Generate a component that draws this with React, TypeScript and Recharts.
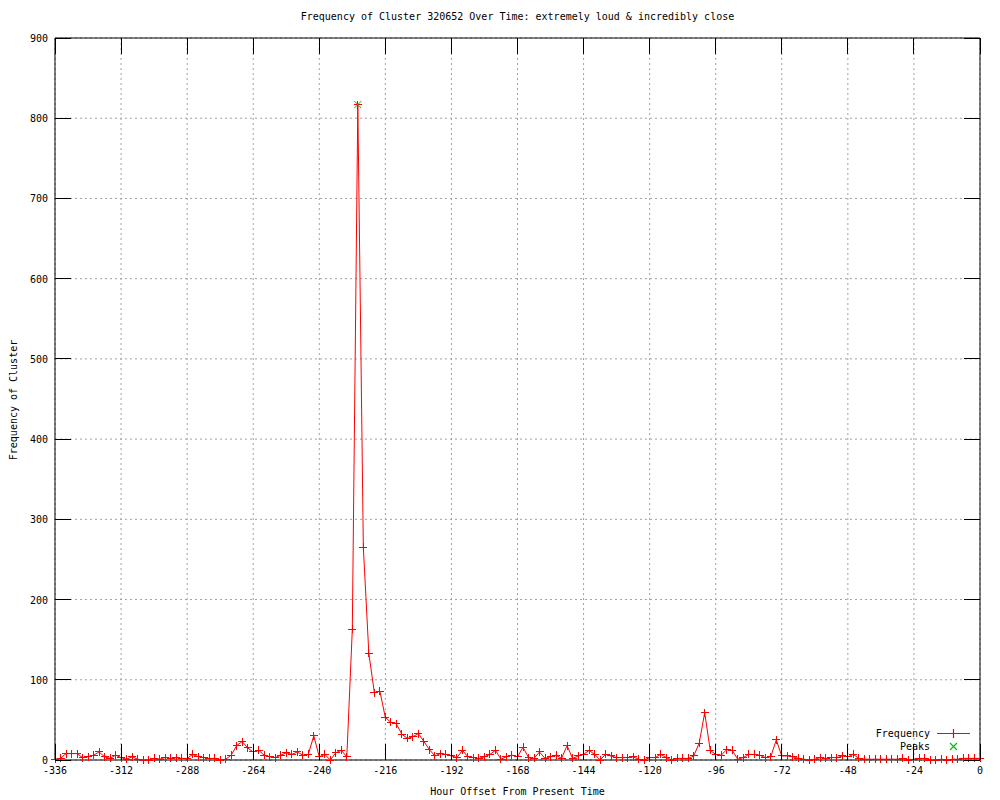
import React from 'react';
import { ComposedChart, Line, Scatter, XAxis, YAxis, CartesianGrid, ReferenceArea } from 'recharts';

// hour offsets, every 2 hours
const hours = [
  -336, -334, -332, -330, -328, -326, -324, -322, -320, -318, -316, -314, -312, -310, -308, -306, -304, -302, -300, -298,
  -296, -294, -292, -290, -288, -286, -284, -282, -280, -278, -276, -274, -272, -270, -268, -266, -264, -262, -260, -258,
  -256, -254, -252, -250, -248, -246, -244, -242, -240, -238, -236, -234, -232, -230, -228, -226, -224, -222, -220, -218,
  -216, -214, -212, -210, -208, -206, -204, -202, -200, -198, -196, -194, -192, -190, -188, -186, -184, -182, -180, -178,
  -176, -174, -172, -170, -168, -166, -164, -162, -160, -158, -156, -154, -152, -150, -148, -146, -144, -142, -140, -138,
  -136, -134, -132, -130, -128, -126, -124, -122, -120, -118, -116, -114, -112, -110, -108, -106, -104, -102, -100, -98,
  -96, -94, -92, -90, -88, -86, -84, -82, -80, -78, -76, -74, -72, -70, -68, -66, -64, -62, -60, -58,
  -56, -54, -52, -50, -48, -46, -44, -42, -40, -38, -36, -34, -32, -30, -28, -26, -24, -22, -20, -18,
  -16, -14, -12, -10, -8, -6, -4, -2, 0,
];

const frequency = [
  1, 2, 8, 8, 8, 3, 4, 6, 10, 4, 2, 6, 3, 1, 4, 1, 0, 0, 2, 1,
  3, 2, 3, 2, 2, 7, 4, 3, 2, 2, 0, 1, 6, 18, 23, 15, 10, 12, 6, 4,
  3, 6, 9, 7, 10, 6, 7, 30, 4, 7, 0, 9, 12, 4, 163, 817, 265, 133, 84, 86,
  53, 47, 45, 32, 27, 29, 33, 23, 13, 5, 8, 7, 5, 3, 12, 4, 3, 2, 4, 7,
  12, 1, 4, 6, 4, 16, 3, 2, 10, 2, 4, 6, 2, 18, 2, 5, 7, 12, 7, 0,
  7, 5, 3, 3, 3, 4, 1, 0, 3, 3, 7, 3, 0, 2, 2, 2, 5, 21, 59, 12,
  7, 6, 13, 12, 1, 3, 7, 7, 6, 3, 4, 25, 5, 5, 4, 2, 1, 0, 1, 3,
  2, 3, 3, 5, 4, 7, 2, 1, 1, 1, 1, 1, 1, 1, 2, 0, 1, 2, 2, 0,
  0, 1, 0, 1, 1, 2, 2, 2, 2,
];

const peakHours = [-226];
const peakValues = [817];

const xTicks = [-336, -312, -288, -264, -240, -216, -192, -168, -144, -120, -96, -72, -48, -24, 0];
const yTicks = [0, 100, 200, 300, 400, 500, 600, 700, 800, 900];

const data = hours.map((hour, i) => ({ hour, freq: frequency[i] }));
const peaks = peakHours.map((hour, i) => ({ hour, freq: peakValues[i] }));

const TOP = 38;
const BOTTOM = 760;
const LEFT = 55;
const RIGHT = 980;
const TICK = 16;
const FONT = '"DejaVu Sans Mono", monospace';

const PlusDot = (props: any) => {
  const { cx, cy, index } = props;
  if (cx == null || cy == null) return <g key={`p-${index}`} />;
  return (
    <path
      key={`p-${index}`}
      d={`M${cx - 4},${cy}H${cx + 4}M${cx},${cy - 4}V${cy + 4}`}
      stroke="#ff0000"
      strokeWidth={1}
      fill="none"
      shapeRendering="crispEdges"
    />
  );
};

const GreenX = (props: any) => {
  const { cx, cy } = props;
  return (
    <path
      d={`M${cx - 3.5},${cy - 3.5}L${cx + 3.5},${cy + 3.5}M${cx - 3.5},${cy + 3.5}L${cx + 3.5},${cy - 3.5}`}
      stroke="#00c000"
      strokeWidth={1}
      fill="none"
    />
  );
};

const XTick = (props: any) => {
  const { x, payload } = props;
  return (
    <g>
      <line x1={x} x2={x} y1={BOTTOM} y2={BOTTOM - TICK} stroke="#000" shapeRendering="crispEdges" />
      <line x1={x} x2={x} y1={TOP} y2={TOP + TICK} stroke="#000" shapeRendering="crispEdges" />
      <text x={x} y={774} textAnchor="middle" fontFamily={FONT} fontSize={10} fill="#000">
        {payload.value}
      </text>
    </g>
  );
};

const YTick = (props: any) => {
  const { y, payload } = props;
  return (
    <g>
      <line x1={LEFT} x2={LEFT + TICK} y1={y} y2={y} stroke="#000" shapeRendering="crispEdges" />
      <line x1={RIGHT} x2={RIGHT - TICK} y1={y} y2={y} stroke="#000" shapeRendering="crispEdges" />
      <text x={LEFT - 7} y={y + 4} textAnchor="end" fontFamily={FONT} fontSize={10} fill="#000">
        {payload.value}
      </text>
    </g>
  );
};

const LegendBox = () => (
  <svg width={120} height={30} style={{ position: 'absolute', left: 860, top: 725 }}>
    <text x={70} y={12} textAnchor="end" fontFamily={FONT} fontSize={10} fill="#000">Frequency</text>
    <line x1={77} x2={110} y1={8.5} y2={8.5} stroke="#ff0000" strokeWidth={1.2} />
    <line x1={93.5} x2={93.5} y1={4} y2={13} stroke="#ff0000" strokeWidth={1.2} />
    <text x={70} y={25} textAnchor="end" fontFamily={FONT} fontSize={10} fill="#000">Peaks</text>
    <path d="M90,18L97,25M90,25L97,18" stroke="#00c000" strokeWidth={1.2} />
  </svg>
);

export default function App() {
  return (
    <div style={{ position: 'absolute', left: 0, top: 0, width: 1000, height: 800, background: '#fff' }}>
      <div
        style={{
          position: 'absolute', left: 0, top: 11, width: 1035, textAlign: 'center',
          fontFamily: FONT, fontSize: 10, color: '#000',
        }}
      >
        Frequency of Cluster 320652 Over Time: extremely loud &amp; incredibly close
      </div>
      <div
        style={{
          position: 'absolute', left: 0, top: 786, width: 1035, textAlign: 'center',
          fontFamily: FONT, fontSize: 10, color: '#000',
        }}
      >
        Hour Offset From Present Time
      </div>
      <div
        style={{
          position: 'absolute', left: 13, top: 400, transform: 'translate(-50%, -50%) rotate(-90deg)',
          whiteSpace: 'nowrap', fontFamily: FONT, fontSize: 10, color: '#000',
        }}
      >
        Frequency of Cluster
      </div>
      <ComposedChart
        width={1000}
        height={800}
        data={data}
        margin={{ top: TOP, right: 1000 - RIGHT, bottom: 0, left: 0 }}
      >
        <CartesianGrid stroke="#a0a0a0" strokeDasharray="2 3" />
        <XAxis
          dataKey="hour"
          type="number"
          domain={[-336, 0]}
          ticks={xTicks}
          height={800 - BOTTOM}
          axisLine={false}
          tickLine={false}
          tick={<XTick />}
          interval={0}
        />
        <YAxis
          type="number"
          domain={[0, 900]}
          ticks={yTicks}
          width={LEFT}
          axisLine={false}
          tickLine={false}
          tick={<YTick />}
          interval={0}
        />
        <ReferenceArea x1={-336} x2={0} y1={0} y2={900} fill="none" stroke="#000" strokeWidth={1} />
        <Line
          dataKey="freq"
          stroke="#ff0000"
          strokeWidth={1}
          dot={(p: any) => <PlusDot key={`p-${p.index}`} {...p} />}
          activeDot={false}
          isAnimationActive={false}
          name="Frequency"
        />
        <Scatter data={peaks} dataKey="freq" shape={<GreenX />} isAnimationActive={false} name="Peaks" />
      </ComposedChart>
      <LegendBox />
    </div>
  );
}
